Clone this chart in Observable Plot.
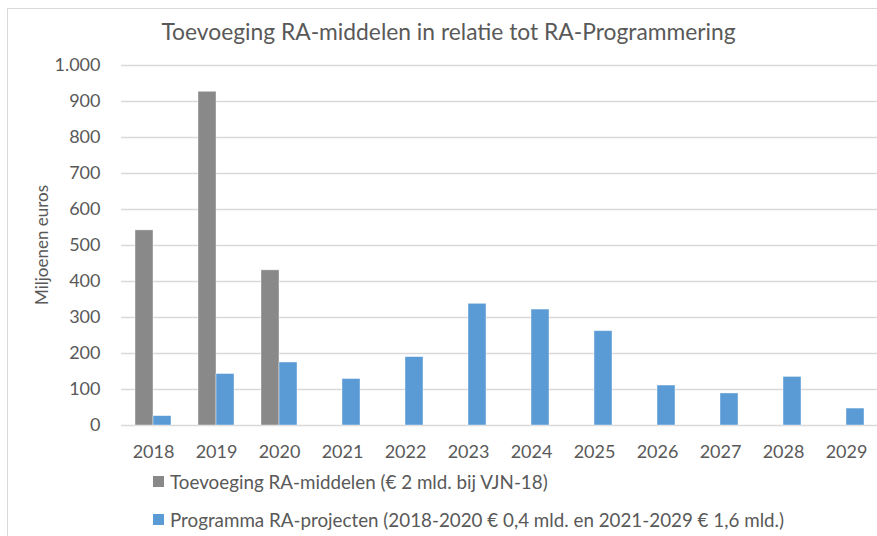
<!DOCTYPE html>
<html>
<head>
<meta charset="utf-8">
<script src="https://cdn.jsdelivr.net/npm/d3@7"></script>
<script src="https://cdn.jsdelivr.net/npm/@observablehq/plot@0.6"></script>
<style>
  html, body { margin: 0; padding: 0; background: #fff; }
  #wrap { position: relative; width: 877px; height: 536px; overflow: hidden; font-family: Lato, "Open Sans", sans-serif; color: #595959; }
  #border { position: absolute; left: 7px; top: 8px; width: 1000px; height: 1000px; border: 1px solid #d9d9d9; box-sizing: border-box; }
  #chart { position: absolute; left: 0; top: 0; }
  #title { position: absolute; left: 0; width: 897px; top: 17.5px; text-align: center; font-size: 22.8px; line-height: 1.2; white-space: nowrap; }
  #ylabel { position: absolute; left: -58px; top: 235px; width: 200px; height: 20px; line-height: 20px; text-align: center; font-size: 17px; transform: rotate(-90deg); white-space: nowrap; }
  .leg { position: absolute; left: 153px; font-size: 18.8px; line-height: 1.2; white-space: nowrap; }
  .sw { display: inline-block; width: 11px; height: 11px; margin-right: 6px; vertical-align: 2px; }
</style>
</head>
<body>
<div id="wrap">
  <div id="border"></div>
  <div id="chart"></div>
  <div id="title"></div>
  <div id="ylabel"></div>
  <div id="leg1" class="leg"></div>
  <div id="leg2" class="leg"></div>
</div>
<script>
const titleText = "Toevoeging RA-middelen in relatie tot RA-Programmering";
const yLabelText = "Miljoenen euros";
const years = ["2018","2019","2020","2021","2022","2023","2024","2025","2026","2027","2028","2029"];
const seriesNames = ["Toevoeging RA-middelen (€ 2 mld. bij VJN-18)", "Programma RA-projecten (2018-2020 € 0,4 mld. en 2021-2029 € 1,6 mld.)"];
const seriesColors = ["#898989", "#5b9bd5"];
const toevoeging = [542, 927, 431, null, null, null, null, null, null, null, null, null];
const programma = [26, 143, 175, 129, 190, 338, 322, 262, 111, 89, 135, 47];
const yTicks = [0, 100, 200, 300, 400, 500, 600, 700, 800, 900, 1000];

const nl = d3.formatLocale({decimal: ",", thousands: ".", grouping: [3], currency: ["€", ""]});
const fmt = nl.format(",");

const grayData = years.map((year, i) => ({year, value: toevoeging[i]})).filter(d => d.value != null);
const blueData = years.map((year, i) => ({year, value: programma[i]}));

const chart = Plot.plot({
  width: 877,
  height: 470,
  marginTop: 65,
  marginBottom: 45,
  marginLeft: 121,
  marginRight: 0,
  style: {fontFamily: "Lato, 'Open Sans', sans-serif", fontSize: "18px", color: "#595959", background: "transparent", overflow: "visible"},
  x: {domain: years, paddingInner: 0.7143, paddingOuter: 0.3571, label: null, tickSize: 0, tickPadding: 20},
  y: {domain: [0, 1000], ticks: yTicks, tickFormat: fmt, tickSize: 0, tickPadding: 21, label: null},
  marks: [
    Plot.ruleY(yTicks, {stroke: "#d9d9d9", strokeWidth: 1.3}),
    Plot.barY(grayData, {x: "year", y: "value", fill: seriesColors[0], dx: -9, stroke: "#ffffff", strokeOpacity: 0.5, strokeWidth: 0.8}),
    Plot.barY(blueData, {x: "year", y: "value", fill: seriesColors[1], dx: 9, stroke: "#ffffff", strokeOpacity: 0.5, strokeWidth: 0.8})
  ]
});
document.getElementById("chart").appendChild(chart);
document.getElementById("title").textContent = titleText;
document.getElementById("ylabel").textContent = yLabelText;

function legendItem(el, name, color, top) {
  el.style.top = top + "px";
  const sw = document.createElement("span");
  sw.className = "sw";
  sw.style.background = color;
  el.appendChild(sw);
  el.appendChild(document.createTextNode(name));
}
legendItem(document.getElementById("leg1"), seriesNames[0], seriesColors[0], 471.4);
legendItem(document.getElementById("leg2"), seriesNames[1], seriesColors[1], 509.4);
</script>
</body>
</html>
